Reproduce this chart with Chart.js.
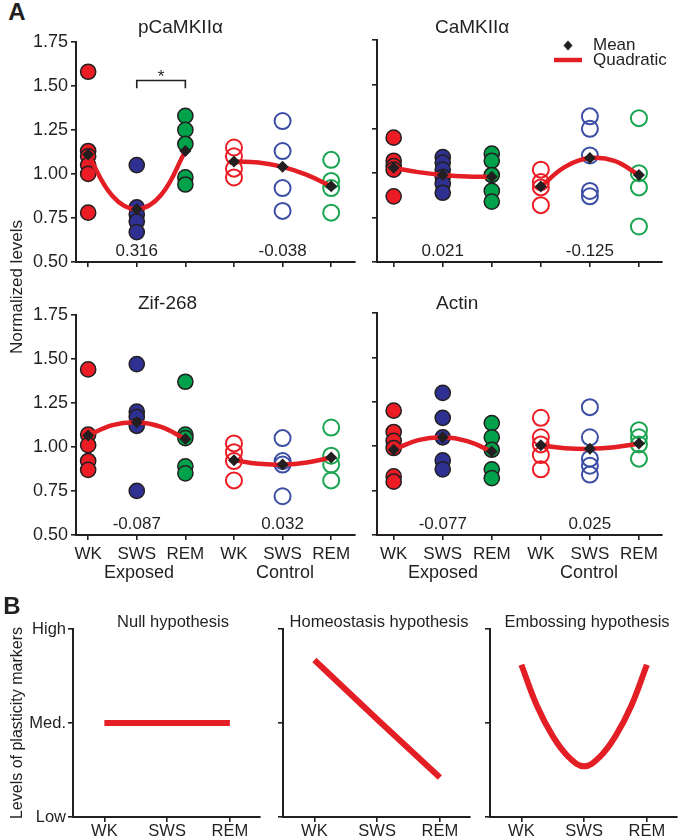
<!DOCTYPE html>
<html>
<head>
<meta charset="utf-8">
<script src="https://cdn.jsdelivr.net/npm/chart.js@4"></script>
<style>
  html, body { margin: 0; padding: 0; background: #fff; }
  #fig { position: relative; width: 679px; height: 838px; overflow: hidden;
         font-family: "Liberation Sans", Arial, sans-serif; color: #231f20; }
  #fig canvas { position: absolute; }
  .lbl { position: absolute; white-space: nowrap; line-height: 1; }
</style>
</head>
<body>
<div id="fig">
  <canvas id="a1" width="365" height="252" style="left:0;top:28px"></canvas>
  <canvas id="a2" width="314" height="252" style="left:365px;top:28px"></canvas>
  <canvas id="a3" width="365" height="267" style="left:0;top:301px"></canvas>
  <canvas id="a4" width="314" height="267" style="left:365px;top:301px"></canvas>
  <canvas id="b1" width="265" height="228" style="left:0;top:610px"></canvas>
  <canvas id="b2" width="210" height="228" style="left:265px;top:610px"></canvas>
  <canvas id="b3" width="204" height="228" style="left:475px;top:610px"></canvas>
</div>
<script>
// x categories: Exposed WK/SWS/REM then Control WK/SWS/REM
const stateLabels = ["WK", "SWS", "REM", "WK", "SWS", "REM"];
const fitSteps = [0, 0.5, 1, 1.5, 2];

// each points list: one array per group, same order as stateLabels
const pcamkPoints = [
  [1.58, 1.13, 1.10, 1.05, 1.00, 0.78],
  [1.05, 0.81, 0.77, 0.73, 0.67],
  [1.33, 1.25, 1.17, 0.98, 0.94],
  [1.15, 1.10, 1.03, 0.98],
  [1.30, 1.13, 0.92, 0.79],
  [1.08, 0.96, 0.92, 0.78]
];
const pcamkMeans = [1.11, 0.80, 1.13, 1.07, 1.04, 0.93];
const pcamkFitExposed = [1.11, 0.875, 0.80, 0.88, 1.13];
const pcamkFitControl = [1.07, 1.065, 1.04, 0.995, 0.93];
const pcamkR = ["0.316", "-0.038"];

const camkPoints = [
  [1.20, 1.07, 1.04, 1.02, 0.87],
  [1.09, 1.06, 1.02, 0.98, 0.94, 0.89],
  [1.11, 1.07, 0.99, 0.90, 0.84],
  [1.02, 0.95, 0.92, 0.82],
  [1.32, 1.25, 1.10, 0.90, 0.87],
  [1.31, 1.00, 0.92, 0.70]
];
const camkMeans = [1.03, 0.99, 0.98, 0.925, 1.085, 0.99];
const camkFitExposed = [1.03, 1.006, 0.99, 0.981, 0.98];
const camkFitControl = [0.925, 1.037, 1.085, 1.069, 0.99];
const camkR = ["0.021", "-0.125"];

const zifPoints = [
  [1.44, 1.07, 1.01, 0.92, 0.87],
  [1.47, 1.20, 1.17, 1.12, 0.75],
  [1.37, 1.07, 1.05, 0.89, 0.85],
  [1.02, 0.97, 0.92, 0.81],
  [1.05, 0.92, 0.90, 0.72],
  [1.11, 0.95, 0.90, 0.81]
];
const zifMeans = [1.065, 1.14, 1.045, 0.925, 0.90, 0.94];
const zifFitExposed = [1.065, 1.124, 1.14, 1.114, 1.045];
const zifFitControl = [0.925, 0.904, 0.90, 0.912, 0.94];
const zifR = ["-0.087", "0.032"];

const actinPoints = [
  [1.20, 1.08, 1.03, 0.99, 0.83, 0.80],
  [1.30, 1.16, 1.05, 0.92, 0.87],
  [1.13, 1.05, 0.98, 0.87, 0.82],
  [1.16, 1.05, 1.01, 0.95, 0.87],
  [1.22, 1.05, 0.93, 0.89, 0.84],
  [1.09, 1.05, 1.01, 0.93]
];
const actinMeans = [0.98, 1.05, 0.97, 1.005, 0.985, 1.015];
const actinFitExposed = [0.98, 1.034, 1.05, 1.029, 0.97];
const actinFitControl = [1.005, 0.989, 0.985, 0.994, 1.015];
const actinR = ["-0.077", "0.025"];

// panel B (0 = Low, 0.5 = Med., 1 = High)
const hypLabels = ["WK", "SWS", "REM"];
const levelTicks = [0, 0.5, 1];
const levelLabels = ["Low", "Med.", "High"];
const hypSteps = [0, 1, 2];
const nullHyp = [0.5, 0.5, 0.5];
const homeoHyp = [0.835, 0.52, 0.21];
const embossSteps = [0, 0.25, 0.5, 0.75, 1, 1.25, 1.5, 1.75, 2];
const embossHyp = [0.81, 0.59, 0.43, 0.32, 0.27, 0.32, 0.43, 0.59, 0.81];

const ink = "#231f20";
const curveRed = "#e31e24";
const groupColors = ["#ec1c24", "#2e3192", "#00a14b"];
const openColors = ["#ec1c24", "#3b4ea3", "#1aa550"];
const fam = '"Liberation Sans", Arial, sans-serif';

Chart.defaults.font.family = fam;
Chart.defaults.color = ink;

// draws r values, the significance bracket and the legend
const annotate = {
  id: "annotate",
  afterDatasetsDraw(chart, args, opts) {
    const { ctx } = chart;
    const x = chart.scales.x, y = chart.scales.y;
    ctx.save();
    ctx.fillStyle = ink;
    ctx.strokeStyle = ink;
    ctx.textBaseline = "middle";
    ctx.font = "17px " + fam;
    ctx.textAlign = "center";
    (opts.texts || []).forEach(t => {
      ctx.fillText(t.text, x.getPixelForValue(t.x), y.getPixelForValue(t.y));
    });
    if (opts.bracket) {
      const b = opts.bracket;
      const x1 = x.getPixelForValue(b.x1), x2 = x.getPixelForValue(b.x2);
      const yt = y.getPixelForValue(b.top), yb = y.getPixelForValue(b.bottom);
      ctx.lineWidth = 1.6;
      ctx.beginPath();
      ctx.moveTo(x1, yb); ctx.lineTo(x1, yt); ctx.lineTo(x2, yt); ctx.lineTo(x2, yb);
      ctx.stroke();
      ctx.fillText(b.label, (x1 + x2) / 2, y.getPixelForValue(b.labelY));
    }
    if (opts.legend) {
      const L = opts.legend;
      ctx.textAlign = "left";
      ctx.beginPath();
      ctx.moveTo(L.dx, L.dy - 5); ctx.lineTo(L.dx + 4.5, L.dy);
      ctx.lineTo(L.dx, L.dy + 5); ctx.lineTo(L.dx - 4.5, L.dy);
      ctx.closePath(); ctx.fill();
      ctx.fillText("Mean", L.tx, L.dy);
      ctx.strokeStyle = curveRed; ctx.lineWidth = 4.5;
      ctx.beginPath(); ctx.moveTo(L.lx1, L.ly); ctx.lineTo(L.lx2, L.ly); ctx.stroke();
      ctx.fillText("Quadratic", L.tx, L.ly);
    }
    ctx.restore();
  }
};

function panelDatasets(points, means, fitE, fitC) {
  const ds = [];
  ds.push({
    data: means.map((m, i) => ({ x: i, y: m })),
    pointStyle: "rectRot", pointRadius: 6, backgroundColor: ink,
    borderColor: ink, borderWidth: 0, order: 0
  });
  [fitE, fitC].forEach((f, k) => ds.push({
    data: f.map((v, i) => ({ x: k * 3 + fitSteps[i], y: v })),
    showLine: true, borderColor: curveRed, borderWidth: 4.5,
    pointRadius: 0, tension: 0.4, order: 1
  }));
  points.forEach((vals, g) => {
    const open = g >= 3;
    ds.push({
      data: vals.map(v => ({ x: g, y: v })),
      pointRadius: open ? 8 : 7.6,
      backgroundColor: open ? "rgba(0,0,0,0)" : groupColors[g % 3],
      borderColor: open ? openColors[g % 3] : ink,
      borderWidth: open ? 2 : 1.5,
      order: 2
    });
  });
  return ds;
}

function axisStyle() {
  return {
    grid: { drawOnChartArea: false, drawTicks: true, tickLength: 5, color: ink, lineWidth: 1.6 },
    border: { display: true, color: ink, width: 2 }
  };
}

function panelA(id, cfg) {
  new Chart(document.getElementById(id), {
    type: "scatter",
    data: { datasets: panelDatasets(cfg.points, cfg.means, cfg.fitE, cfg.fitC) },
    plugins: [annotate],
    options: {
      responsive: false, animation: false, events: [],
      layout: { padding: { top: 12, right: cfg.padRight, left: 0, bottom: 0 } },
      plugins: {
        legend: { display: false }, tooltip: { enabled: false },
        annotate: {
          texts: [{ x: 1, y: 0.56, text: cfg.r[0] }, { x: 4, y: 0.56, text: cfg.r[1] }],
          bracket: cfg.bracket, legend: cfg.legend
        }
      },
      scales: {
        x: Object.assign(axisStyle(), {
          type: "linear", min: cfg.xmin, max: cfg.xmax,
          afterBuildTicks: s => { s.ticks = stateLabels.map((_, i) => ({ value: i })); },
          afterFit: s => { s.height = cfg.xh; },
          ticks: { display: cfg.xlabels, callback: v => stateLabels[v], font: { size: 17 },
                   padding: 4, maxRotation: 0, autoSkip: false }
        }),
        y: Object.assign(axisStyle(), {
          min: 0.5, max: 1.75,
          afterFit: s => { s.width = cfg.yw; },
          ticks: { display: cfg.ylabels, stepSize: 0.25, callback: v => v.toFixed(2),
                   font: { size: 18 }, padding: 3 }
        })
      }
    }
  });
}

panelA("a1", { points: pcamkPoints, means: pcamkMeans, fitE: pcamkFitExposed, fitC: pcamkFitControl,
  r: pcamkR, xmin: -0.25, xmax: 5.49, yw: 76, xh: 18, padRight: 7, xlabels: false, ylabels: true,
  bracket: { x1: 1, x2: 2, top: 1.53, bottom: 1.487, label: "*", labelY: 1.55 } });
panelA("a2", { points: camkPoints, means: camkMeans, fitE: camkFitExposed, fitC: camkFitControl,
  r: camkR, xmin: -0.34, xmax: 5.47, yw: 12, xh: 18, padRight: 17, xlabels: false, ylabels: false,
  legend: { dx: 203, dy: 17.5, tx: 228, lx1: 189, lx2: 217, ly: 32 } });
panelA("a3", { points: zifPoints, means: zifMeans, fitE: zifFitExposed, fitC: zifFitControl,
  r: zifR, xmin: -0.25, xmax: 5.49, yw: 76, xh: 33, padRight: 7, xlabels: true, ylabels: true });
panelA("a4", { points: actinPoints, means: actinMeans, fitE: actinFitExposed, fitC: actinFitControl,
  r: actinR, xmin: -0.34, xmax: 5.47, yw: 12, xh: 33, padRight: 17, xlabels: true, ylabels: false });

function panelB(id, steps, values, cfg) {
  new Chart(document.getElementById(id), {
    type: "scatter",
    data: { datasets: [{
      data: values.map((v, i) => ({ x: steps[i], y: v })),
      showLine: true, borderColor: curveRed, borderWidth: 6, pointRadius: 0,
      tension: cfg.tension, borderCapStyle: "butt"
    }] },
    options: {
      responsive: false, animation: false, events: [],
      layout: { padding: { top: 19, right: cfg.padRight, left: 0, bottom: 0 } },
      plugins: { legend: { display: false }, tooltip: { enabled: false } },
      scales: {
        x: Object.assign(axisStyle(), {
          type: "linear", min: -0.5, max: 2.48,
          afterBuildTicks: s => { s.ticks = hypLabels.map((_, i) => ({ value: i })); },
          afterFit: s => { s.height = 21; },
          ticks: { callback: v => hypLabels[v], font: { size: 16.5 }, padding: 0,
                   maxRotation: 0, autoSkip: false }
        }),
        y: Object.assign(axisStyle(), {
          min: 0, max: 1,
          afterBuildTicks: s => { s.ticks = levelTicks.map(v => ({ value: v })); },
          afterFit: s => { s.width = cfg.yw; },
          ticks: { display: cfg.ylabels, callback: v => levelLabels[levelTicks.indexOf(v)],
                   font: { size: 16.5 }, padding: 2 }
        })
      }
    }
  });
}

panelB("b1", hypSteps, nullHyp, { tension: 0, yw: 73, padRight: 5, ylabels: true });
panelB("b2", hypSteps, homeoHyp, { tension: 0, yw: 18, padRight: 5, ylabels: false });
panelB("b3", embossSteps, embossHyp, { tension: 0.4, yw: 15, padRight: 2, ylabels: false });

// HTML text labels
const fig = document.getElementById("fig");
function label(text, x, y, size, o = {}) {
  const d = document.createElement("div");
  d.className = "lbl";
  d.textContent = text;
  d.style.left = x + "px";
  d.style.top = y + "px";
  d.style.fontSize = size + "px";
  if (o.bold) d.style.fontWeight = "bold";
  let tf = o.left ? "translate(0,-50%)" : "translate(-50%,-50%)";
  if (o.rotate) tf += " rotate(-90deg)";
  d.style.transform = tf;
  fig.appendChild(d);
}
label("A", 17, 12, 24, { bold: true });
label("B", 12, 606, 24, { bold: true });
label("pCaMKIIα", 138, 26, 19, { left: true });
label("CaMKIIα", 435, 26, 19, { left: true });
label("Zif-268", 138, 302, 19, { left: true });
label("Actin", 436, 302, 19, { left: true });
label("Normalized levels", 16, 287, 17, { rotate: true });
label("Exposed", 139, 572, 18);
label("Control", 285, 572, 18);
label("Exposed", 443, 572, 18);
label("Control", 589, 572, 18);
label("Levels of plasticity markers", 17, 723, 16, { rotate: true });
label("Null hypothesis", 173, 621, 16.5);
label("Homeostasis hypothesis", 379, 621, 16.5);
label("Embossing hypothesis", 587, 621, 16.5);
</script>
</body>
</html>
